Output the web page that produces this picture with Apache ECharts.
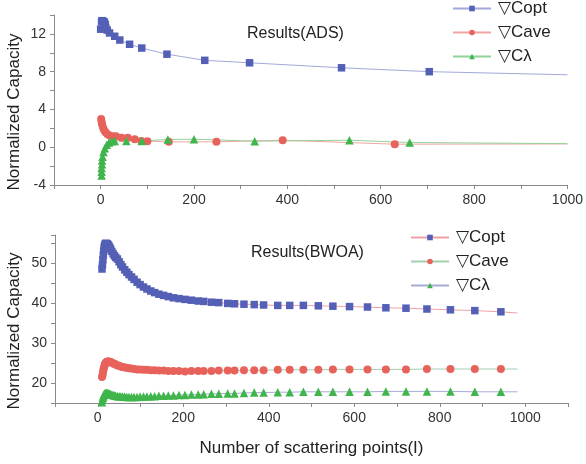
<!DOCTYPE html>
<html>
<head>
<meta charset="utf-8">
<script src="https://cdn.jsdelivr.net/npm/echarts@6/dist/echarts.min.js"></script>
<style>
  html, body { margin: 0; padding: 0; background: #fff; }
  #chart { width: 586px; height: 464px; }
</style>
</head>
<body>
<div id="chart"></div>
<script>
// ---- Results(ADS) : [x, value] pairs
const adsCopt = [
  [0, 12.5], [2, 13.3], [3, 13.4], [4, 13.35], [5, 13.3], [6, 13.3], [7, 13.25],
  [8, 13.2], [10, 13.0], [11, 12.6], [14, 12.4], [19, 12.1], [30, 11.75],
  [41, 11.35], [62, 10.9], [88, 10.5], [142, 9.85], [223, 9.2], [319, 8.94],
  [516, 8.41], [704, 8.0]
];
const adsCave = [
  [1, 3.0], [2, 2.7], [3, 2.4], [5, 2.1], [7, 1.85], [10, 1.6], [14, 1.4],
  [19, 1.25], [26, 1.15], [33, 1.17], [45, 1.0], [58, 1.0], [73, 0.85],
  [87, 0.67], [100, 0.64], [146, 0.57], [248, 0.57], [390, 0.74], [630, 0.32]
];
const adsClam = [
  [2, -3.0], [2, -2.6], [2, -2.2], [3, -1.8], [3, -1.4], [4, -1.0], [6, -0.5],
  [9, -0.1], [13, 0.25], [18, 0.5], [24, 0.62], [30, 0.66], [55, 0.66],
  [88, 0.66], [144, 0.82], [200, 0.85], [330, 0.64], [533, 0.74], [662, 0.5]
];
// where the fitted lines end (no marker)
const adsLineEnd = { copt: [1000, 7.67], cave: [1000, 0.35], clam: [1000, 0.38] };

// ---- Results(BWOA)
const bwoaX = [10, 11, 12, 13, 14, 15, 16, 17, 18, 19, 20, 22, 24, 26, 28, 30, 33, 36, 39, 42,
  46, 50, 54, 58, 63, 68, 73, 79, 85, 92, 99, 107, 115, 124, 133, 143, 154, 165, 177, 190,
  204, 219, 235, 248, 266, 283, 304, 320, 342, 366, 388, 421, 449, 481, 516, 550, 589, 631,
  674, 721, 770, 825, 882, 943];
const bwoaCopt = [48.5, 49.5, 50.8, 52.0, 53.0, 53.8, 54.3, 54.6, 54.8, 54.9, 54.9, 54.8, 54.6,
  54.3, 53.9, 53.5, 52.9, 52.3, 51.8, 51.4, 51.0, 50.3, 49.6, 49.0, 48.3, 47.7, 47.1, 46.5,
  45.9, 45.2, 44.6, 44.0, 43.5, 43.0, 42.6, 42.2, 41.9, 41.6, 41.3, 41.1, 40.9, 40.7, 40.5,
  40.4, 40.2, 40.1, 39.9, 39.8, 39.7, 39.6, 39.5, 39.4, 39.4, 39.4, 39.3, 39.2, 39.1, 39.0,
  38.8, 38.7, 38.5, 38.3, 38.1, 37.8];
const bwoaCave = [21.5, 21.9, 22.5, 23.1, 23.6, 24.0, 24.4, 24.7, 24.9, 25.1, 25.2, 25.3, 25.4,
  25.4, 25.3, 25.2, 25.1, 24.9, 24.8, 24.6, 24.4, 24.3, 24.1, 24.0, 23.9, 23.8, 23.7, 23.6,
  23.5, 23.4, 23.4, 23.3, 23.3, 23.2, 23.2, 23.1, 23.1, 23.0, 23.0, 23.0, 22.9, 23.0, 23.0,
  23.0, 23.0, 23.1, 23.1, 23.1, 23.2, 23.2, 23.2, 23.3, 23.3, 23.3, 23.3, 23.4, 23.4, 23.4,
  23.4, 23.4, 23.5, 23.5, 23.5, 23.5];
const bwoaClam = [15.2, 15.8, 16.3, 16.7, 17.0, 17.2, 17.3, 17.4, 17.4, 17.5, 17.5, 17.5, 17.5,
  17.4, 17.3, 17.2, 17.1, 17.0, 16.9, 16.8, 16.7, 16.7, 16.6, 16.6, 16.6, 16.5, 16.5, 16.5,
  16.5, 16.5, 16.6, 16.6, 16.6, 16.7, 16.7, 16.8, 16.8, 16.9, 16.9, 17.0, 17.0, 17.1, 17.1,
  17.2, 17.3, 17.3, 17.4, 17.4, 17.5, 17.6, 17.6, 17.7, 17.7, 17.8, 17.8, 17.8, 17.8, 17.8,
  17.9, 17.9, 17.9, 17.9, 17.8, 17.8];
const bwoaLineEnd = { copt: [982, 37.5], cave: [982, 23.5], clam: [982, 17.8] };

const xTicks = [0, 200, 400, 600, 800, 1000];
const topYTicks = [-4, 0, 4, 8, 12];
const botYTicks = [20, 30, 40, 50];

const BLUE = '#5360b6', RED = '#e8625c', GREEN = '#3fb54c';
const FONT = 'Liberation Sans, Arial, DejaVu Sans, sans-serif';

function withEnd(points, end) {
  return points.map((p) => p).concat([{ value: end, symbol: 'none' }]);
}
function pair(xs, ys) {
  return xs.map((x, i) => [x, ys[i]]);
}

const axisCommon = {
  type: 'value',
  splitLine: { show: false },
  axisLine: { show: true, onZero: false, lineStyle: { color: '#8a8a8a', width: 1 } },
  axisTick: { show: true, length: 4, lineStyle: { color: '#8a8a8a' } },
  axisLabel: { color: '#333', fontSize: 14, fontFamily: FONT, margin: 8 },
};

const names = {
  'a_copt': '\u25BDCopt', 'a_cave': '\u25BDCave', 'a_clam': '\u25BDC\u03BB',
  'b_copt': '\u25BDCopt', 'b_cave': '\u25BDCave', 'b_clam': '\u25BDC\u03BB',
};

function series(id, xi, yi, data, color, lineColor, symbol, size) {
  return {
    name: id,
    type: 'line',
    xAxisIndex: xi,
    yAxisIndex: yi,
    data: data,
    symbol: symbol,
    symbolSize: size,
    showSymbol: true,
    animation: false,
    itemStyle: { color: color },
    lineStyle: { color: lineColor, width: 1 },
    z: 3,
  };
}

const legendCommon = {
  orient: 'vertical',
  padding: 0,
  itemWidth: 38,
  itemHeight: 7,
  itemGap: 7,
  textStyle: { fontSize: 17, color: '#222', fontFamily: FONT, padding: [0, 0, 0, 2] },
  formatter: (n) => names[n],
};

const chart = echarts.init(document.getElementById('chart'));
chart.setOption({
  backgroundColor: '#fff',
  animation: false,
  title: [
    { text: 'Results(ADS)', left: 242, top: 21, textStyle: { fontSize: 16, fontWeight: 'normal', color: '#222', fontFamily: FONT } },
    { text: 'Results(BWOA)', left: 246, top: 240, textStyle: { fontSize: 16, fontWeight: 'normal', color: '#222', fontFamily: FONT } },
  ],
  legend: [
    Object.assign({}, legendCommon, { left: 452, top: 0, data: ['a_copt', 'a_cave', 'a_clam'] }),
    Object.assign({}, legendCommon, { left: 410, top: 229, data: ['b_copt', 'b_cave', 'b_clam'] }),
  ],
  grid: [
    { left: 54, right: 18, top: 15, height: 170 },
    { left: 55, right: 18, top: 235, height: 168 },
  ],
  xAxis: [
    Object.assign({}, axisCommon, {
      gridIndex: 0, min: -100, max: 1000, interval: 100,
      axisLabel: Object.assign({}, axisCommon.axisLabel, {
        formatter: (v) => (xTicks.includes(v) ? String(v) : ''),
      }),
    }),
    Object.assign({}, axisCommon, {
      gridIndex: 1, min: -100, max: 1100, interval: 100,
      name: 'Number of scattering points(I)', nameLocation: 'middle', nameGap: 37,
      nameTextStyle: { fontSize: 17, color: '#222', fontFamily: FONT },
      axisLabel: Object.assign({}, axisCommon.axisLabel, {
        formatter: (v) => (xTicks.includes(v) ? String(v) : ''),
      }),
    }),
  ],
  yAxis: [
    Object.assign({}, axisCommon, {
      gridIndex: 0, min: -4, max: 14, interval: 2,
      axisLabel: Object.assign({}, axisCommon.axisLabel, {
        formatter: (v) => (topYTicks.includes(v) ? String(v) : ''),
      }),
    }),
    Object.assign({}, axisCommon, {
      gridIndex: 1, min: 15, max: 57, interval: 5,
      axisLabel: Object.assign({}, axisCommon.axisLabel, {
        formatter: (v) => (botYTicks.includes(v) ? String(v) : ''),
      }),
    }),
  ],
  graphic: [
    { type: 'text', x: 14, y: 112, rotation: Math.PI / 2,
      style: { text: 'Normalized Capacity', fontSize: 17, fill: '#222', fontFamily: FONT, align: 'center', verticalAlign: 'middle' } },
    { type: 'text', x: 14, y: 331, rotation: Math.PI / 2,
      style: { text: 'Normalized Capacity', fontSize: 17, fill: '#222', fontFamily: FONT, align: 'center', verticalAlign: 'middle' } },
  ],
  series: [
    series('a_copt', 0, 0, withEnd(adsCopt, adsLineEnd.copt), BLUE, '#a3a8dc', 'rect', 7.5),
    series('a_cave', 0, 0, withEnd(adsCave, adsLineEnd.cave), RED, '#f0a6a2', 'circle', 8),
    series('a_clam', 0, 0, withEnd(adsClam, adsLineEnd.clam), GREEN, '#92d29a', 'triangle', 8.5),
    series('b_copt', 1, 1, withEnd(pair(bwoaX, bwoaCopt), bwoaLineEnd.copt), BLUE, '#f0a0a8', 'rect', 7.5),
    series('b_cave', 1, 1, withEnd(pair(bwoaX, bwoaCave), bwoaLineEnd.cave), RED, '#9fd0b0', 'circle', 8),
    series('b_clam', 1, 1, withEnd(pair(bwoaX, bwoaClam), bwoaLineEnd.clam), GREEN, '#a6aad4', 'triangle', 8.5),
  ],
});
</script>
</body>
</html>
